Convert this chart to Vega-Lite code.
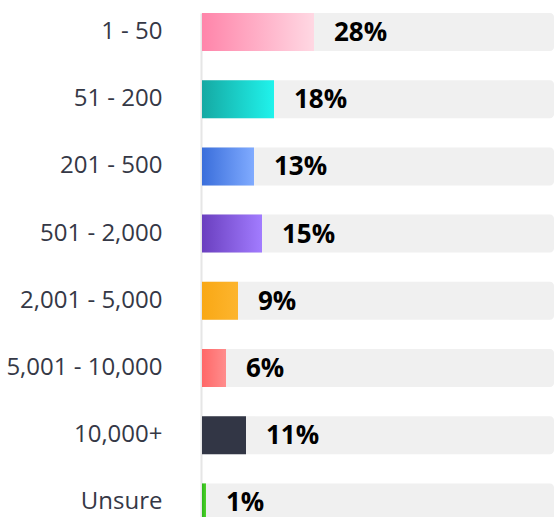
{
  "$schema": "https://vega.github.io/schema/vega-lite/v6.json",
  "autosize": "none",
  "width": 352,
  "height": 504,
  "padding": {"left": 202, "top": 13, "right": 0, "bottom": 0},
  "config": {"view": {"stroke": null}, "font": "Open Sans"},
  "data": {"values": [
    {"size": "1 - 50", "pct": 28, "label": "28%"},
    {"size": "51 - 200", "pct": 18, "label": "18%"},
    {"size": "201 - 500", "pct": 13, "label": "13%"},
    {"size": "501 - 2,000", "pct": 15, "label": "15%"},
    {"size": "2,001 - 5,000", "pct": 9, "label": "9%"},
    {"size": "5,001 - 10,000", "pct": 6, "label": "6%"},
    {"size": "10,000+", "pct": 11, "label": "11%"},
    {"size": "Unsure", "pct": 1, "label": "1%"}
  ]},
  "encoding": {
    "y": {
      "field": "size",
      "type": "nominal",
      "sort": null,
      "scale": {"range": [0, 508.4], "paddingInner": 0.4345, "paddingOuter": 0},
      "axis": {
        "title": null,
        "ticks": false,
        "domain": true,
        "domainColor": "#e6e6e6",
        "domainWidth": 2,
        "offset": 1,
        "labelPadding": 39,
        "labelFontSize": 24,
        "labelColor": "#353846",
        "labelFont": "Open Sans",
        "labelLimit": 300,
        "labelBaseline": "middle"
      }
    }
  },
  "layer": [
    {
      "mark": {"type": "bar", "color": "#f0f0f0", "cornerRadius": 4, "clip": true},
      "encoding": {
        "x": {"datum": 0, "type": "quantitative", "scale": {"domain": [0, 88], "nice": false, "zero": true}, "axis": null},
        "x2": {"datum": 88}
      }
    },
    {
      "mark": {"type": "bar", "clip": true},
      "encoding": {
        "x": {"field": "pct", "type": "quantitative"},
        "color": {
          "condition": [
            {"test": "datum.size === '1 - 50'", "value": {"gradient": "linear", "stops": [{"offset": 0, "color": "#ff85aa"}, {"offset": 1, "color": "#ffd8e3"}]}},
            {"test": "datum.size === '51 - 200'", "value": {"gradient": "linear", "stops": [{"offset": 0, "color": "#15a9a3"}, {"offset": 1, "color": "#20f3ec"}]}},
            {"test": "datum.size === '201 - 500'", "value": {"gradient": "linear", "stops": [{"offset": 0, "color": "#3a6edb"}, {"offset": 1, "color": "#80abff"}]}},
            {"test": "datum.size === '501 - 2,000'", "value": {"gradient": "linear", "stops": [{"offset": 0, "color": "#6a3fbf"}, {"offset": 1, "color": "#a27cff"}]}},
            {"test": "datum.size === '2,001 - 5,000'", "value": {"gradient": "linear", "stops": [{"offset": 0, "color": "#f9a815"}, {"offset": 1, "color": "#fdb52e"}]}},
            {"test": "datum.size === '5,001 - 10,000'", "value": {"gradient": "linear", "stops": [{"offset": 0, "color": "#ff6868"}, {"offset": 1, "color": "#ff8d8d"}]}},
            {"test": "datum.size === 'Unsure'", "value": {"gradient": "linear", "stops": [{"offset": 0, "color": "#2db71a"}, {"offset": 1, "color": "#4fd22c"}]}}
          ],
          "value": "#323645"
        }
      }
    },
    {
      "mark": {"type": "text", "align": "left", "baseline": "middle", "dx": 20, "dy": 1, "fontSize": 26, "fontWeight": "bold", "color": "#000000", "font": "Open Sans"},
      "encoding": {
        "x": {"field": "pct", "type": "quantitative"},
        "text": {"field": "label"}
      }
    }
  ]
}
